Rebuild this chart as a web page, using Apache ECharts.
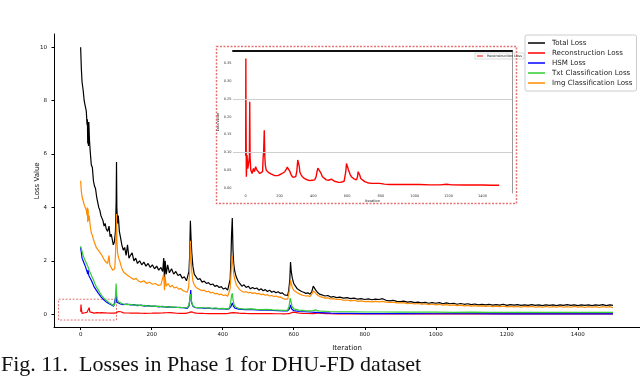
<!DOCTYPE html>
<html>
<head>
<meta charset="utf-8">
<script src="https://cdn.jsdelivr.net/npm/echarts@6/dist/echarts.min.js"></script>
<style>
  html, body { margin: 0; padding: 0; background: #fff; }
  #chart { width: 640px; height: 380px; }
</style>
</head>
<body>
<div id="chart"></div>
<script>
// tick labels
const iterTicks = [0, 200, 400, 600, 800, 1000, 1200, 1400];
const lossTicks = [0, 2, 4, 6, 8, 10];
const reconTicks = [0, 0.05, 0.1, 0.15, 0.2, 0.25, 0.3, 0.35];

const seriesNames = ['Total Loss', 'Reconstruction Loss', 'HSM Loss', 'Txt Classification Loss', 'Img Classification Loss'];

// [iteration, loss]
const totalLoss = [[0,10.0],[2,9.2],[4,8.7],[7,8.4],[10,8.0],[13,7.8],[16,7.6],[18,7.1],[19,7.3],[20,6.4],[21,7.2],[22,6.3],[23,7.2],[25,6.5],[27,6.1],[30,5.6],[33,5.5],[36,5.0],[39,4.8],[42,4.7],[45,4.4],[48,4.2],[51,4.0],[54,3.9],[57,3.7],[60,3.6],[63,3.5],[66,3.3],[69,3.4],[72,3.2],[76,3.1],[80,3.3],[83,2.9],[86,3.0],[89,2.8],[92,2.6],[95,2.7],[98,3.1],[100,4.2],[101,5.7],[102,4.0],[104,3.4],[106,3.7],[109,3.1],[112,2.9],[116,2.6],[120,2.4],[124,2.5],[128,2.2],[132,2.6],[136,2.1],[140,2.2],[145,2.3],[150,2.0],[155,2.1],[160,1.9],[166,2.0],[172,1.85],[178,1.95],[184,1.8],[190,1.9],[196,1.75],[202,1.85],[208,1.7],[214,1.8],[220,1.65],[226,1.75],[231,1.6],[234,2.1],[236,1.3],[238,2.0],[241,1.5],[245,1.85],[250,1.55],[256,1.7],[262,1.5],[268,1.6],[274,1.45],[280,1.5],[286,1.35],[292,1.4],[298,1.25],[302,1.3],[305,1.6],[307,2.2],[309,3.5],[311,2.8],[313,2.3],[316,1.8],[320,1.5],[325,1.4],[330,1.3],[336,1.33],[342,1.2],[348,1.24],[354,1.15],[360,1.18],[366,1.1],[372,1.13],[378,1.04],[384,1.08],[390,1.0],[396,1.03],[402,0.94],[408,0.98],[414,0.9],[418,0.94],[421,1.3],[423,2.0],[425,3.0],[427,3.6],[429,2.4],[431,1.9],[434,1.6],[438,1.4],[443,1.25],[448,1.15],[454,1.05],[460,1.1],[466,1.0],[472,1.05],[478,0.95],[484,1.0],[490,0.95],[496,0.98],[502,0.9],[508,0.95],[514,0.88],[520,0.92],[526,0.85],[532,0.9],[538,0.82],[544,0.86],[550,0.8],[556,0.84],[562,0.78],[568,0.8],[574,0.72],[579,0.66],[583,0.7],[586,0.9],[589,1.3],[591,1.95],[593,1.6],[596,1.35],[600,1.15],[605,1.05],[610,0.95],[616,0.9],[622,0.85],[628,0.82],[634,0.78],[640,0.8],[646,0.75],[651,0.85],[655,1.05],[658,1.1],[662,0.9],[668,0.8],[674,0.74],[680,0.72],[688,0.68],[696,0.7],[704,0.64],[712,0.66],[720,0.62],[730,0.64],[740,0.6],[750,0.62],[760,0.58],[770,0.6],[780,0.56],[790,0.58],[800,0.55],[810,0.57],[820,0.54],[830,0.56],[840,0.55],[850,0.58],[860,0.52],[870,0.5],[880,0.52],[890,0.48],[900,0.47],[910,0.49],[920,0.45],[930,0.47],[940,0.43],[950,0.45],[960,0.42],[970,0.44],[980,0.41],[990,0.43],[1000,0.41],[1010,0.43],[1020,0.39],[1030,0.42],[1040,0.39],[1050,0.41],[1060,0.37],[1070,0.4],[1080,0.37],[1090,0.39],[1100,0.36],[1110,0.38],[1120,0.35],[1130,0.37],[1140,0.35],[1150,0.37],[1160,0.34],[1170,0.36],[1180,0.34],[1190,0.37],[1200,0.33],[1210,0.36],[1220,0.34],[1230,0.36],[1240,0.33],[1250,0.35],[1260,0.33],[1270,0.36],[1280,0.33],[1290,0.35],[1300,0.32],[1310,0.35],[1320,0.33],[1330,0.35],[1340,0.32],[1350,0.35],[1360,0.33],[1370,0.36],[1380,0.33],[1390,0.35],[1400,0.32],[1410,0.35],[1420,0.33],[1430,0.35],[1440,0.32],[1450,0.35],[1460,0.33],[1470,0.36],[1480,0.32],[1490,0.35],[1499,0.33]];

const reconLoss = [[0,0.09],[1,0.364],[2,0.2],[4,0.031],[8,0.092],[12,0.054],[18,0.07],[22,0.087],[24,0.242],[26,0.087],[30,0.05],[38,0.04],[46,0.054],[52,0.045],[59,0.059],[66,0.05],[73,0.045],[83,0.04],[93,0.036],[100,0.045],[103,0.083],[106,0.1],[110,0.162],[113,0.09],[116,0.064],[121,0.05],[126,0.045],[134,0.043],[142,0.04],[152,0.038],[162,0.036],[172,0.034],[181,0.031],[191,0.034],[201,0.036],[216,0.04],[231,0.045],[241,0.052],[246,0.058],[250,0.061],[255,0.054],[262,0.045],[270,0.035],[280,0.029],[290,0.03],[296,0.031],[302,0.045],[308,0.078],[312,0.083],[314,0.083],[317,0.06],[320,0.045],[327,0.037],[335,0.031],[347,0.026],[359,0.023],[369,0.021],[379,0.02],[393,0.021],[408,0.022],[416,0.03],[422,0.045],[427,0.055],[430,0.059],[434,0.054],[438,0.05],[446,0.04],[454,0.031],[465,0.026],[477,0.022],[490,0.021],[500,0.023],[507,0.024],[515,0.02],[525,0.018],[536,0.017],[550,0.015],[562,0.015],[572,0.014],[582,0.018],[588,0.022],[592,0.045],[596,0.068],[600,0.066],[604,0.064],[608,0.05],[611,0.045],[618,0.037],[625,0.031],[640,0.025],[655,0.022],[661,0.03],[665,0.045],[668,0.05],[671,0.05],[675,0.035],[680,0.026],[690,0.021],[704,0.017],[720,0.014],[744,0.012],[770,0.012],[793,0.012],[820,0.01],[852,0.009],[900,0.009],[970,0.009],[1030,0.009],[1089,0.008],[1150,0.008],[1187,0.0095],[1220,0.008],[1286,0.0075],[1350,0.0075],[1404,0.0075],[1450,0.007],[1499,0.007]];

const hsmLoss = [[0,2.5],[2,2.3],[4,2.1],[7,2.0],[10,1.9],[13,1.8],[16,1.75],[18,1.6],[20,1.5],[21,1.65],[23,1.45],[26,1.4],[30,1.27],[34,1.15],[38,1.02],[44,0.9],[50,0.78],[58,0.64],[65,0.54],[72,0.46],[79,0.4],[86,0.35],[93,0.3],[97,0.35],[100,0.7],[102,0.45],[106,0.4],[112,0.38],[120,0.36],[130,0.38],[140,0.35],[150,0.36],[160,0.32],[170,0.34],[180,0.3],[190,0.32],[200,0.29],[210,0.3],[220,0.27],[230,0.29],[240,0.26],[250,0.27],[260,0.25],[270,0.26],[280,0.24],[290,0.24],[300,0.22],[305,0.3],[308,0.6],[310,0.9],[312,0.45],[316,0.3],[322,0.25],[330,0.23],[340,0.24],[350,0.22],[360,0.23],[370,0.21],[380,0.22],[390,0.2],[400,0.21],[410,0.19],[418,0.2],[423,0.28],[427,0.42],[430,0.3],[435,0.22],[445,0.19],[455,0.18],[465,0.17],[480,0.18],[495,0.16],[510,0.15],[525,0.16],[540,0.14],[555,0.13],[570,0.12],[582,0.12],[588,0.2],[591,0.35],[594,0.2],[600,0.13],[615,0.1],[630,0.09],[645,0.08],[660,0.07],[675,0.06],[690,0.05],[705,0.04],[730,0.03],[760,0.03],[800,0.02],[850,0.02],[900,0.02],[1000,0.015],[1100,0.015],[1200,0.01],[1300,0.01],[1400,0.01],[1499,0.01]];

const txtLoss = [[0,2.55],[2,2.5],[4,2.35],[7,2.2],[10,2.1],[13,2.0],[16,1.95],[20,1.8],[24,1.65],[28,1.52],[32,1.4],[36,1.28],[40,1.15],[44,1.03],[50,0.9],[58,0.72],[65,0.6],[72,0.52],[79,0.44],[86,0.38],[93,0.32],[97,0.4],[100,1.15],[101,0.8],[103,0.55],[107,0.45],[112,0.42],[120,0.38],[130,0.36],[140,0.37],[150,0.34],[160,0.35],[170,0.32],[180,0.33],[190,0.3],[200,0.31],[210,0.29],[220,0.3],[230,0.27],[240,0.28],[250,0.26],[260,0.27],[270,0.25],[280,0.26],[290,0.24],[300,0.24],[305,0.35],[308,0.6],[310,0.75],[312,0.5],[316,0.32],[322,0.26],[330,0.24],[340,0.25],[350,0.23],[360,0.24],[370,0.22],[380,0.23],[390,0.21],[400,0.22],[410,0.2],[418,0.22],[422,0.4],[425,0.7],[427,0.78],[429,0.55],[432,0.35],[437,0.26],[445,0.22],[455,0.2],[465,0.19],[480,0.2],[495,0.18],[510,0.17],[525,0.18],[540,0.16],[555,0.15],[570,0.14],[582,0.14],[587,0.3],[590,0.6],[592,0.5],[595,0.3],[600,0.2],[615,0.15],[630,0.13],[645,0.12],[655,0.13],[662,0.16],[668,0.12],[680,0.11],[700,0.1],[730,0.09],[760,0.09],[800,0.08],[850,0.08],[900,0.075],[950,0.08],[1000,0.075],[1050,0.07],[1100,0.075],[1150,0.07],[1200,0.07],[1250,0.07],[1300,0.068],[1350,0.07],[1400,0.068],[1450,0.07],[1499,0.065]];

const imgLoss = [[0,5.0],[2,4.6],[4,4.4],[7,4.25],[10,4.1],[13,4.0],[16,3.9],[18,3.7],[19,4.0],[20,3.45],[21,3.95],[22,3.5],[24,3.7],[27,3.3],[30,3.05],[33,2.95],[36,2.8],[40,2.65],[44,2.5],[48,2.45],[52,2.35],[56,2.3],[60,2.2],[64,2.15],[68,2.0],[72,2.05],[76,1.9],[80,2.2],[82,1.85],[86,1.78],[90,1.65],[93,1.58],[96,1.7],[98,2.2],[100,3.0],[101,3.75],[102,2.8],[104,2.3],[107,2.1],[110,2.0],[114,1.8],[118,1.65],[123,1.55],[128,1.5],[133,1.45],[138,1.38],[143,1.35],[150,1.3],[156,1.35],[162,1.25],[170,1.2],[178,1.25],[186,1.15],[194,1.2],[202,1.12],[210,1.15],[218,1.08],[226,1.1],[231,1.05],[234,1.5],[236,0.9],[238,1.4],[241,1.05],[246,1.15],[252,1.02],[258,1.08],[264,0.98],[270,1.02],[276,0.94],[282,0.96],[288,0.88],[294,0.85],[300,0.82],[304,1.0],[307,1.6],[309,2.75],[311,2.1],[313,1.6],[316,1.25],[320,1.1],[325,1.0],[330,0.95],[336,0.92],[342,0.88],[348,0.9],[354,0.84],[360,0.86],[366,0.8],[372,0.82],[378,0.76],[384,0.78],[390,0.73],[396,0.75],[402,0.7],[408,0.72],[414,0.67],[418,0.7],[421,0.95],[423,1.4],[425,1.9],[427,2.2],[429,1.8],[431,1.5],[434,1.3],[438,1.12],[443,1.0],[448,0.92],[454,0.86],[460,0.82],[466,0.84],[472,0.8],[478,0.82],[484,0.78],[490,0.8],[496,0.76],[502,0.78],[508,0.73],[514,0.75],[520,0.71],[526,0.73],[532,0.68],[538,0.7],[544,0.66],[550,0.68],[556,0.64],[562,0.65],[568,0.6],[574,0.56],[579,0.52],[583,0.56],[586,0.75],[589,1.0],[591,1.27],[593,1.15],[596,1.0],[600,0.9],[605,0.84],[610,0.8],[616,0.76],[622,0.72],[628,0.7],[634,0.68],[640,0.69],[646,0.66],[651,0.75],[655,0.88],[658,0.9],[662,0.78],[668,0.7],[674,0.66],[680,0.64],[688,0.6],[696,0.61],[704,0.57],[712,0.58],[720,0.55],[730,0.56],[740,0.52],[750,0.53],[760,0.5],[770,0.52],[780,0.48],[790,0.5],[800,0.47],[810,0.48],[820,0.46],[830,0.48],[840,0.46],[850,0.48],[860,0.45],[870,0.44],[880,0.45],[890,0.42],[900,0.42],[910,0.43],[920,0.39],[930,0.41],[940,0.38],[950,0.4],[960,0.37],[970,0.39],[980,0.36],[990,0.38],[1000,0.35],[1010,0.37],[1020,0.34],[1030,0.36],[1040,0.33],[1050,0.35],[1060,0.32],[1070,0.34],[1080,0.31],[1090,0.33],[1100,0.3],[1110,0.32],[1120,0.3],[1130,0.31],[1140,0.29],[1150,0.31],[1160,0.28],[1170,0.3],[1180,0.28],[1190,0.3],[1200,0.27],[1210,0.29],[1220,0.27],[1230,0.29],[1240,0.26],[1250,0.29],[1260,0.27],[1270,0.29],[1280,0.26],[1290,0.28],[1300,0.26],[1310,0.29],[1320,0.26],[1330,0.28],[1340,0.26],[1350,0.29],[1360,0.26],[1370,0.28],[1380,0.26],[1390,0.29],[1400,0.26],[1410,0.28],[1420,0.25],[1430,0.28],[1440,0.26],[1450,0.28],[1460,0.25],[1470,0.28],[1480,0.26],[1490,0.28],[1499,0.24]];

const colors = ['#000000', '#ff0000', '#0000ff', '#32cd32', '#ff8c00'];
const font = 'DejaVu Sans';
const plain = (v) => String(v);

const chart = echarts.init(document.getElementById('chart'), null, { renderer: 'canvas' });

function lineSeries(name, data, color, extra) {
  return Object.assign({
    name: name,
    type: 'line',
    data: data,
    showSymbol: false,
    symbol: 'none',
    lineStyle: { color: color, width: 1.2 },
    itemStyle: { color: color },
    silent: true,
  }, extra || {});
}

chart.setOption({
  animation: false,
  backgroundColor: '#fff',
  textStyle: { fontFamily: font },
  grid: [
    { left: 54, top: 34, width: 588, height: 293.5 },
    { left: 233, top: 51, width: 279, height: 142 },
  ],
  legend: [
    {
      data: seriesNames,
      orient: 'vertical',
      left: 525,
      top: 35,
      icon: 'rect',
      itemWidth: 17,
      itemHeight: 1.5,
      itemGap: 2,
      padding: [4, 4, 4, 3],
      backgroundColor: '#fff',
      borderColor: '#cccccc',
      borderWidth: 1,
      borderRadius: 2,
      textStyle: { fontSize: 7.1, lineHeight: 8, color: '#222', fontFamily: font, padding: [0, 0, 0, 2] },
    },
    {
      data: ['Reconstruction Loss'],
      left: 475,
      top: 53,
      icon: 'rect',
      itemWidth: 6,
      itemHeight: 1,
      padding: [1, 2, 1, 2],
      borderColor: '#bbbbbb',
      borderWidth: 0.5,
      textStyle: { fontSize: 3.5, color: '#222', fontFamily: font, padding: [0, 0, 0, -1] },
    },
  ],
  xAxis: [
    {
      gridIndex: 0,
      type: 'value',
      min: -75,
      max: 1575,
      name: 'Iteration',
      nameLocation: 'middle',
      nameGap: 17,
      nameTextStyle: { fontSize: 7, color: '#111' },
      axisLine: { onZero: false, lineStyle: { color: '#000', width: 1 } },
      axisTick: { show: true, length: 2.5, customValues: iterTicks, lineStyle: { color: '#000' } },
      axisLabel: { customValues: iterTicks, formatter: plain, fontSize: 5.5, color: '#111', margin: 4 },
      splitLine: { show: false },
    },
    {
      gridIndex: 1,
      type: 'value',
      min: -75,
      max: 1575,
      name: 'Iteration',
      nameLocation: 'middle',
      nameGap: 5,
      nameTextStyle: { fontSize: 3.5, color: '#222' },
      axisLine: { show: false, onZero: false },
      axisTick: { show: false },
      axisLabel: { customValues: iterTicks, formatter: plain, fontSize: 3.5, color: '#333', margin: 1.5 },
      splitLine: { show: false },
    },
    {
      gridIndex: 1,
      type: 'value',
      position: 'top',
      min: -75,
      max: 1575,
      axisLine: { show: true, onZero: false, lineStyle: { color: '#111', width: 2 } },
      axisTick: { show: false },
      axisLabel: { show: false },
      splitLine: { show: false },
    },
  ],
  yAxis: [
    {
      gridIndex: 0,
      type: 'value',
      min: -0.5,
      max: 10.5,
      name: 'Loss Value',
      nameLocation: 'middle',
      nameGap: 13,
      nameMoveOverlap: false,
      nameTextStyle: { fontSize: 7, color: '#111' },
      axisLine: { show: true, onZero: false, lineStyle: { color: '#000', width: 1 } },
      axisTick: { show: true, length: 2.5, customValues: lossTicks, lineStyle: { color: '#000' } },
      axisLabel: { customValues: lossTicks, formatter: plain, fontSize: 5.5, color: '#111', margin: 7 },
      splitLine: { show: false },
    },
    {
      gridIndex: 1,
      type: 'value',
      min: -0.015,
      max: 0.385,
      name: 'Loss Value',
      nameLocation: 'middle',
      nameGap: 9,
      nameTextStyle: { fontSize: 3.5, color: '#222' },
      axisLine: { show: false, onZero: false },
      axisTick: { show: false },
      axisLabel: {
        customValues: reconTicks,
        fontSize: 3.5,
        color: '#333',
        margin: 1.5,
        formatter: (v) => v.toFixed(2),
      },
      splitLine: { show: false },
    },
    {
      gridIndex: 1,
      type: 'value',
      position: 'right',
      min: -0.015,
      max: 0.385,
      axisLine: { show: true, onZero: false, lineStyle: { color: '#999', width: 1 } },
      axisTick: { show: false },
      axisLabel: { show: false },
      splitLine: { show: false },
    },
  ],
  series: [
    lineSeries(seriesNames[0], totalLoss, colors[0]),
    lineSeries(seriesNames[1], reconLoss, colors[1], {
      markArea: {
        silent: true,
        itemStyle: { color: 'rgba(0,0,0,0)', borderColor: '#e57373', borderWidth: 1, borderType: [2, 1.5] },
        data: [[{ coord: [-62, 0.56] }, { coord: [101, -0.22] }]],
      },
    }),
    lineSeries(seriesNames[2], hsmLoss, colors[2]),
    lineSeries(seriesNames[3], txtLoss, colors[3]),
    lineSeries(seriesNames[4], imgLoss, colors[4]),
    lineSeries('Reconstruction Loss', reconLoss, colors[1], {
      xAxisIndex: 1,
      yAxisIndex: 1,
      lineStyle: { color: colors[1], width: 1.4 },
      markLine: {
        silent: true,
        symbol: 'none',
        label: { show: false },
        lineStyle: { color: '#cfcfcf', width: 1, type: 'solid' },
        data: [{ yAxis: 0.1 }, { yAxis: 0.25 }],
      },
    }),
  ],
  graphic: [
    {
      type: 'rect',
      shape: { x: 216.5, y: 46.5, width: 300, height: 157 },
      style: { fill: 'none', stroke: '#e57373', lineWidth: 1.5, lineDash: [2, 1.5] },
      silent: true,
    },
    {
      type: 'text',
      left: 1,
      top: 354,
      style: {
        text: 'Fig. 11.  Losses in Phase 1 for DHU-FD dataset',
        font: '22px "Liberation Serif"',
        fill: '#111',
      },
    },
  ],
});
</script>
</body>
</html>
